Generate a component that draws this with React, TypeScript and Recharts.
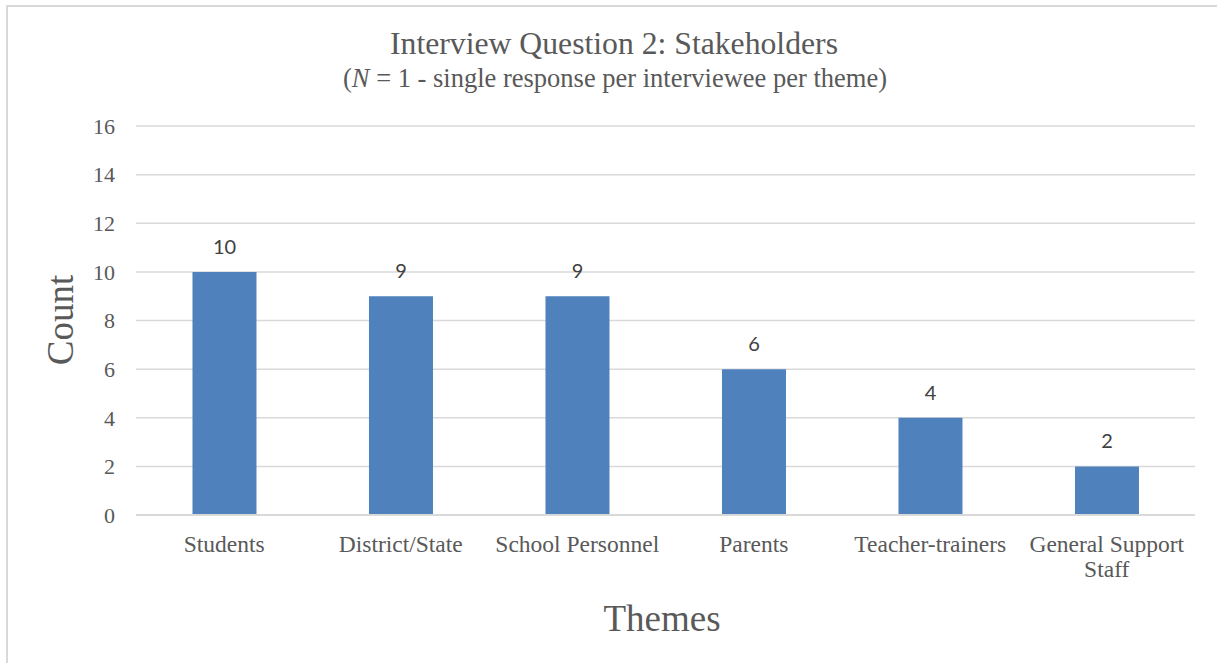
import React from 'react';
import { BarChart, Bar, XAxis, YAxis, CartesianGrid, LabelList } from 'recharts';

const categories = ['Students', 'District/State', 'School Personnel', 'Parents', 'Teacher-trainers', 'General Support Staff'];
const counts = [10, 9, 9, 6, 4, 2];
const yTicks = [0, 2, 4, 6, 8, 10, 12, 14, 16];

const data = categories.map((c, i) => ({ theme: c, count: counts[i] }));

const SERIF = '"Liberation Serif", "Times New Roman", serif';
const GRAY = '#595959';

function wrapLabel(s: string): string[] {
  if (s.length <= 16) return [s];
  const idx = s.lastIndexOf(' ');
  return [s.slice(0, idx), s.slice(idx + 1)];
}

const XTick = (props: any) => {
  const { x, y, payload } = props;
  const lines = wrapLabel(String(payload.value));
  return (
    <text x={x} y={y} textAnchor="middle" fill={GRAY} fontFamily={SERIF} fontSize={23.5}>
      {lines.map((l, i) => (
        <tspan key={i} x={x} dy={i === 0 ? 37 : 25}>{l}</tspan>
      ))}
    </text>
  );
};

export default function App() {
  return (
    <div style={{ position: 'absolute', left: 0, top: 0, width: 1217, height: 663, overflow: 'hidden', background: '#fff' }}>
      <div style={{ position: 'absolute', left: 6, top: 5, width: 1220, height: 670, borderLeft: '2px solid #d9d9d9', borderTop: '2px solid #d9d9d9' }} />
      <div style={{ position: 'absolute', left: 0, top: 0 }}>
        <BarChart width={1217} height={663} data={data} margin={{ top: 126, right: 22, bottom: 78, left: 76 }} barCategoryGap="32%">
          <CartesianGrid horizontal vertical={false} stroke="#d9d9d9" strokeWidth={1.5} />
          <XAxis dataKey="theme" height={70} axisLine={{ stroke: '#d9d9d9', strokeWidth: 2 }} tickLine={false} tickSize={0} tickMargin={0} tick={<XTick />} interval={0} />
          <YAxis width={60} domain={[0, 16]} ticks={yTicks} axisLine={false} tickLine={false} tickSize={0} tickMargin={21}
            tick={{ fill: GRAY, fontFamily: SERIF, fontSize: 22 }} />
          <Bar dataKey="count" fill="#4f81bd" isAnimationActive={false}>
            <LabelList dataKey="count" position="top" offset={18} fill="#404040" fontFamily="Lato, sans-serif" fontSize={20} />
          </Bar>
        </BarChart>
      </div>
      <svg width={1217} height={663} style={{ position: 'absolute', left: 0, top: 0, pointerEvents: 'none' }}>
        <text x={614} y={54} textAnchor="middle" fill={GRAY} fontFamily={SERIF} fontSize={31.7}>Interview Question 2: Stakeholders</text>
        <text x={615} y={87} textAnchor="middle" fill={GRAY} fontFamily={SERIF} fontSize={26.5}>
          (<tspan fontStyle="italic">N</tspan> = 1 - single response per interviewee per theme)
        </text>
        <text x={73} y={320} textAnchor="middle" fill={GRAY} fontFamily={SERIF} fontSize={37} transform="rotate(-90 73 320)">Count</text>
        <text x={662} y={631} textAnchor="middle" fill={GRAY} fontFamily={SERIF} fontSize={37}>Themes</text>
      </svg>
    </div>
  );
}
